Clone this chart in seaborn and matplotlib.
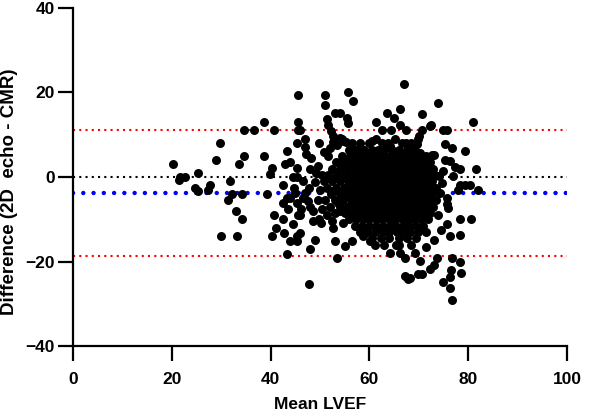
import matplotlib
matplotlib.use("Agg")
import matplotlib.pyplot as plt
import seaborn as sns
import pandas as pd

# ---- data ----
left_x = [20.2, 21.4, 21.7, 22.7, 25.4, 24.7, 25.4, 27.4, 27.8, 29.8, 29.0, 29.9, 31.3, 31.7, 32.1,
          33.0, 34.2, 33.2, 33.7, 34.6, 34.2, 34.6, 36.7, 38.7, 40.7, 38.7, 40.2, 39.8, 39.2, 40.7,
          41.2, 40.2, 42.5, 42.8, 43.4, 43.9, 43.4, 42.9, 42.5, 42.6, 43.3, 44.0, 44.5]
left_y = [3.0, -0.6, 0.0, 0.0, 1.0, -2.6, -3.4, -3.0, -2.0, 8.1, 4.0, -14.0, -5.5, -1.0, -4.1,
          -8.1, -10.0, -14.0, 3.0, 4.9, -4.1, 11.1, 11.1, 13.0, 11.1, 4.9, 2.2, 0.8, -4.1, -9.1,
          -12.0, -14.0, -9.9, -13.2, -18.1, -15.2, 6.1, 3.0, -2.0, -6.1, -4.9, -4.9, 0.0]

upper_x = [45.6, 45.6, 45.3, 45.6, 51.0, 51.0, 55.7, 56.6, 53.0, 54.1, 51.4, 51.7, 52.2, 52.7, 52.7,
           54.4, 55.3, 55.4, 55.7, 47.0, 47.0, 46.0, 61.3, 63.5, 65.0, 66.1, 66.2, 62.5, 64.3, 67.4,
           70.6, 72.4, 74.9, 75.7, 70.1, 69.6, 67.4, 61.3, 65.2, 75.3, 72.6, 67.0, 73.9, 70.7, 80.9,
           72.2, 69.9, 76.8, 79.3, 69.2, 58.1, 60.5, 64.2, 54.1, 54.7]
upper_y = [19.3, 13.0, 8.1, 11.2, 19.3, 17.1, 20.0, 17.9, 15.2, 15.2, 13.8, 12.4, 10.8, 9.8, 8.2,
           9.0, 8.2, 14.0, 12.8, 9.0, 7.1, 11.1, 13.0, 15.2, 14.0, 16.0, 12.2, 11.1, 11.1, 11.1,
           11.1, 12.2, 11.1, 11.1, 9.6, 7.7, 8.1, 8.9, 8.9, 7.7, 5.3, 22.1, 17.4, 15.0, 13.0,
           12.0, 8.9, 6.9, 6.1, 6.3, 6.9, 8.5, 7.4, 9.3, 8.5]

right_x = [70.9, 73.1, 75.3, 76.3, 77.3, 78.3, 81.5, 74.9, 77.0, 78.3, 79.3, 80.3, 77.9, 82.0, 74.3,
           75.6, 75.6, 75.8, 78.3, 80.5, 75.6, 78.3, 76.4, 74.5, 73.8, 74.6, 74.0]
right_y = [4.1, 5.1, 4.0, 3.7, 2.4, 1.9, 1.9, 1.4, 0.2, -2.0, -2.0, -2.0, -3.0, -3.0, -3.7,
           -4.9, -6.5, -7.4, -9.9, -9.9, -11.0, -13.8, -14.0, -12.5, -9.0, -1.5, 0.3]

lower_x = [47.8, 46.0, 46.0, 45.3, 48.6, 48.6, 49.0, 48.0, 49.7, 50.3, 52.7, 53.0, 54.1, 54.7, 55.1,
           56.4, 53.4, 58.8, 60.1, 61.1, 64.2, 65.9, 66.2, 67.2, 67.2, 67.9, 69.9, 45.3, 45.0, 47.6,
           47.0, 76.8, 78.3, 76.6, 78.6, 76.3, 74.8, 76.3, 76.8, 70.6, 72.2, 73.1, 73.6, 70.2, 69.2,
           68.2, 73.0, 71.5, 45.3, 45.6]
lower_y = [-25.2, -8.9, -13.2, -15.2, -8.1, -10.4, -14.8, -17.1, -10.0, -10.8, -12.0, -15.2, -8.1, -10.8, -16.4,
           -15.2, -19.1, -14.0, -15.2, -16.0, -17.9, -16.0, -17.9, -19.1, -23.4, -24.2, -23.0, -6.1, -3.7, -5.7,
           -3.7, -19.1, -20.1, -22.0, -22.6, -23.6, -24.9, -26.2, -29.1, -23.0, -21.7, -20.7, -19.1, -19.9, -17.9,
           -24.0, -15.0, -16.5, -14.0, -9.1]

mid_x = [46.5, 47.8, 49.0, 50.0, 49.5, 48.0, 46.5, 50.5, 49.5, 48.2, 50.8, 49.8, 52.0, 53.5, 47.2,
         44.0, 44.8, 46.2, 51.5, 52.5, 50.5, 44.5, 43.5, 45.3, 45.3, 48.0, 49.2, 51.7, 54.4, 56.4]
mid_y = [-1.0, -2.5, -1.2, -3.0, -5.5, -7.0, -5.0, 0.5, 2.5, 4.5, 6.0, 8.0, 6.8, 7.5, 5.5,
         3.5, -2.6, -7.5, -9.0, -10.5, -7.5, -11.0, -7.5, 2.2, 0.0, 1.8, 1.0, 4.9, 4.1, 5.1]

# dense core, row by row: difference level -> mean LVEF values
core_rows = {
    8.0: [56.5, 58.0, 60.0, 62.5, 63.8, 66.5, 68.5],
    6.5: [55.8, 57.3, 59.0, 60.6, 61.8, 63.0, 64.6, 66.0, 67.6, 69.0],
    5.0: [54.5, 56.0, 57.5, 58.8, 60.2, 61.5, 62.8, 64.1, 65.4, 66.8, 68.1, 69.5, 71.5],
    3.5: [53.3, 55.0, 56.5, 57.8, 59.1, 60.4, 61.7, 63.0, 64.3, 65.6, 66.9, 68.2, 69.6, 71.0, 72.2],
    2.0: [52.5, 54.0, 55.6, 57.0, 58.4, 59.7, 61.0, 62.3, 63.6, 64.9, 66.2, 67.5, 68.8, 70.2, 71.5, 72.8],
    0.5: [51.7, 53.4, 55.0, 56.4, 57.8, 59.1, 60.4, 61.7, 63.0, 64.3, 65.6, 66.9, 68.2, 69.5, 70.8, 72.0, 73.3],
    -1.0: [50.8, 52.4, 54.0, 55.6, 57.0, 58.3, 59.6, 60.9, 62.2, 63.5, 64.8, 66.1, 67.4, 68.7, 70.0, 71.3, 72.6],
    -2.5: [51.5, 53.2, 54.8, 56.3, 57.6, 58.9, 60.2, 61.5, 62.8, 64.1, 65.4, 66.7, 68.0, 69.3, 70.6, 72.0, 73.4],
    -4.0: [52.3, 54.0, 55.5, 57.0, 58.3, 59.6, 60.9, 62.2, 63.5, 64.8, 66.1, 67.4, 68.7, 70.0, 71.3, 72.6],
    -5.5: [51.0, 53.0, 54.7, 56.2, 57.6, 58.9, 60.2, 61.5, 62.8, 64.1, 65.4, 66.7, 68.0, 69.3, 70.6, 72.0, 73.5],
    -7.0: [52.0, 54.0, 55.5, 57.0, 58.3, 59.6, 60.9, 62.2, 63.5, 64.8, 66.1, 67.4, 68.7, 70.0, 71.4, 72.8],
    -8.5: [53.0, 55.0, 56.5, 57.8, 59.1, 60.4, 61.7, 63.0, 64.3, 65.6, 66.9, 68.2, 69.5, 70.8, 72.3],
    -10.0: [55.8, 57.3, 58.7, 60.0, 61.3, 62.6, 63.9, 65.2, 66.5, 67.8, 69.1, 70.5, 71.9],
    -11.5: [57.0, 58.5, 60.0, 61.4, 62.8, 64.1, 65.4, 66.7, 68.0, 69.4, 70.8],
    -13.0: [58.0, 59.6, 61.2, 62.7, 64.0, 65.5, 66.9, 68.3, 69.8, 71.5],
    -14.5: [60.5, 62.3, 64.0, 66.0, 67.7, 69.5],
    -16.0: [63.0, 65.3, 68.5],
}

# in-between rows of the dense core (filling the gaps of the rows above)
core_mid_rows = {
    5.75: [57.0, 59.6, 62.2, 64.8, 67.4, 70.2],
    2.75: [54.6, 57.6, 60.2, 62.8, 65.4, 68.0, 70.8],
    -0.25: [52.8, 55.8, 58.6, 61.4, 64.0, 66.6, 69.2, 71.8],
    -3.25: [52.6, 55.4, 58.2, 61.0, 63.6, 66.2, 68.8, 71.6],
    -6.25: [53.6, 56.4, 59.2, 62.0, 64.6, 67.2, 69.8, 72.4],
    -9.25: [56.0, 58.4, 61.0, 63.6, 66.2, 68.8, 71.4],
    -12.25: [59.2, 62.0, 64.8, 67.6, 70.2],
}

bias = -3.7
loa_upper = 11.1
loa_lower = -18.6

# ---- build table ----
core_x, core_y = [], []
for rows in (core_rows, core_mid_rows):
    for level, xs in rows.items():
        core_x += xs
        core_y += [level] * len(xs)

df = pd.DataFrame({
    "Mean LVEF": left_x + upper_x + right_x + lower_x + mid_x + core_x,
    "Difference": left_y + upper_y + right_y + lower_y + mid_y + core_y,
})

sns.set_style("ticks")
plt.rcParams["font.family"] = ["Liberation Sans", "DejaVu Sans"]
plt.rcParams["font.weight"] = "bold"
plt.rcParams["text.color"] = "black"
plt.rcParams["axes.labelcolor"] = "black"

fig = plt.figure(figsize=(5.97, 4.16), dpi=100)
ax = fig.add_axes([0.122, 0.168, 0.828, 0.813])

ax.axhline(0, color="black", lw=1.5, linestyle=(0, (1, 2)), zorder=1)
ax.axhline(loa_upper, color="#ff0000", lw=1.5, linestyle=(0, (1, 2)), zorder=1)
ax.axhline(loa_lower, color="#ff0000", lw=1.5, linestyle=(0, (1, 2)), zorder=1)
ax.axhline(bias, color="#0000ff", lw=3.2, linestyle=(0, (0.01, 2.3)),
           dash_capstyle="round", zorder=1)

sns.scatterplot(data=df, x="Mean LVEF", y="Difference", ax=ax, color="black",
                s=42, linewidth=0, zorder=3, legend=False)

ax.set_xlim(0, 100)
ax.set_ylim(-40, 40)
ax.set_xticks([0, 20, 40, 60, 80, 100])
ax.set_yticks([-40, -20, 0, 20, 40])
for s in ["top", "right"]:
    ax.spines[s].set_visible(False)
for s in ["left", "bottom"]:
    ax.spines[s].set_linewidth(1.6)
    ax.spines[s].set_color("black")
ax.tick_params(axis="both", width=1.6, length=10.5, color="black",
               labelsize=12.5, labelcolor="black")
ax.tick_params(axis="x", pad=8)
ax.tick_params(axis="y", pad=2.5)
for lab in ax.get_xticklabels() + ax.get_yticklabels():
    lab.set_fontweight("bold")
ax.set_xlabel("Mean LVEF", fontsize=12.5, fontweight="bold", labelpad=7.5, color="black")
ax.set_ylabel("Difference (2D  echo - CMR)", fontsize=13.5, fontweight="bold",
              color="black", va="center", ha="center")
ax.yaxis.set_label_coords(-0.128, 0.455)

fig.savefig("out.png", dpi=100)
